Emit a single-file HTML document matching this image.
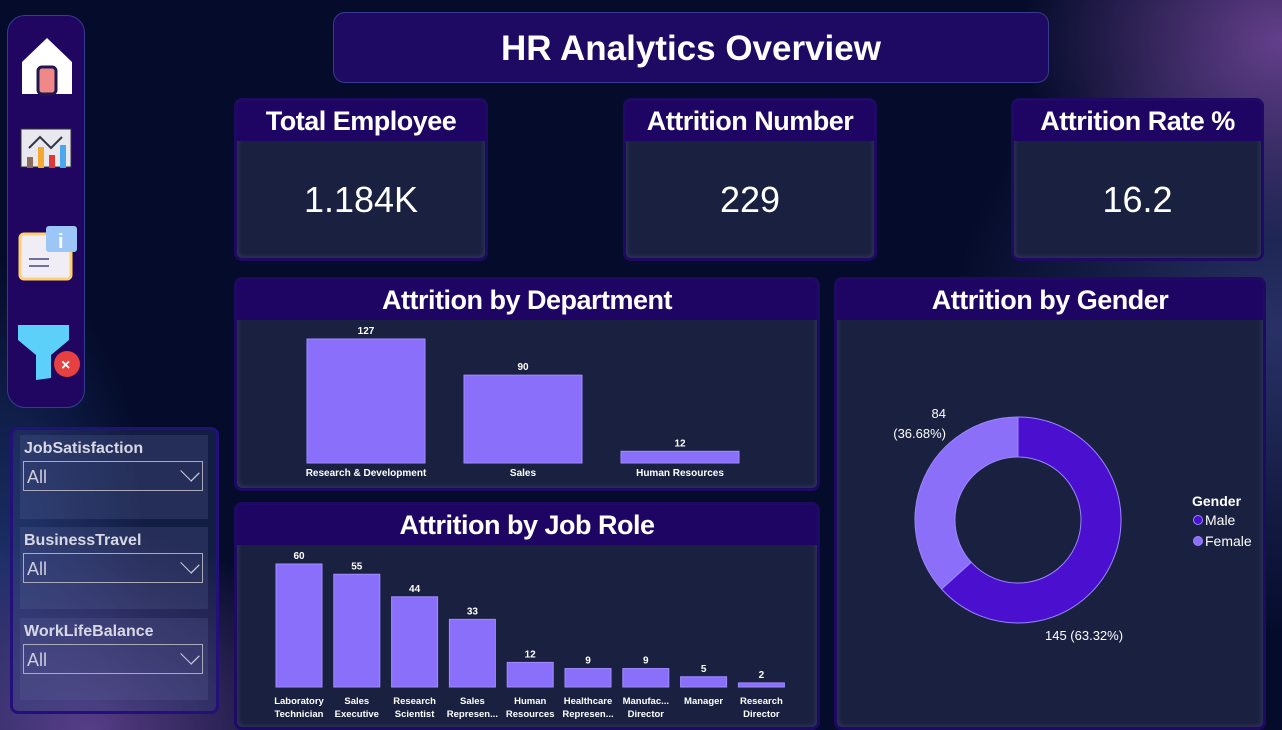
<!DOCTYPE html>
<html><head><meta charset="utf-8">
<style>
*{box-sizing:border-box;margin:0;padding:0}
body{width:1282px;height:730px;overflow:hidden;font-family:"Liberation Sans",sans-serif;color:#fff;
background:radial-gradient(ellipse 260px 200px at 1282px 40px,rgba(150,90,190,.65),transparent),
radial-gradient(ellipse 330px 300px at 1282px 330px,rgba(70,80,150,.55),transparent),
radial-gradient(ellipse 260px 200px at 90px 730px,rgba(120,80,170,.7),transparent),
radial-gradient(ellipse 150px 300px at 0px 560px,rgba(40,70,140,.6),transparent),#050c2b;position:relative}
.abs{position:absolute}
.card{position:absolute;background:#1a2040;border:3px solid #1e0a62;border-radius:8px;overflow:hidden;box-shadow:inset 0 0 6px rgba(120,130,180,.35)}
.hdr{background:#1e0563;height:40px;text-align:center;font-weight:bold;font-size:27px;line-height:40px;letter-spacing:-.5px}
.kval{text-align:center;font-size:36px;margin-top:38px}
.slicer{position:absolute;left:20px;width:188px;height:78px;background:rgba(90,100,150,.25)}
.slicer .t{font-weight:bold;font-size:16px;color:#d8d8e4;margin:5px 0 0 4px}
.slicer .box{margin:3px 0 0 3px;width:180px;height:30px;border:1px solid #aab;font-size:18px;color:#ccd;padding:5px 0 0 3px;position:relative}
.slicer .box:after{content:"";position:absolute;right:6px;top:4px;width:11px;height:11px;border-right:1.5px solid #ccd;border-bottom:1.5px solid #ccd;transform:rotate(45deg) scaleX(1.3)}
svg text{font-family:"Liberation Sans",sans-serif}
</style></head><body>
<div class="abs" style="left:7px;top:15px;width:78px;height:393px;background:#210661;border:1px solid #2f3f90;border-radius:18px"></div>
<svg class="abs" style="left:0;top:0" width="100" height="400">
<g><polygon points="22,62 47,38 72,62 72,94 22,94" fill="#fff"/><rect x="38" y="67" width="18" height="27" rx="4" fill="#f08888" stroke="#1f1850" stroke-width="3"/></g>
<g><rect x="21" y="129" width="50" height="38" fill="#e8e8ee" stroke="#333" /><rect x="27" y="157" width="6" height="11" fill="#8a6b5c"/><rect x="38" y="147" width="6" height="21" fill="#f4a830"/><rect x="49" y="155" width="6" height="13" fill="#e03838"/><rect x="60" y="145" width="6" height="23" fill="#4aa8f0"/><polyline points="29,148 40,137 51,148 62,137" stroke="#334" stroke-width="2" fill="none"/></g>
<g><rect x="20" y="234" width="51" height="45" rx="4" fill="#f0eef4" stroke="#ffd070" stroke-width="3"/><rect x="46" y="226" width="31" height="26" rx="3" fill="#9cc6f6"/><text x="58" y="248" font-size="20" font-weight="bold" fill="#fff">i</text><rect x="29" y="258" width="20" height="2" fill="#7070a0"/><rect x="29" y="265" width="20" height="2" fill="#7070a0"/></g>
<g><polygon points="18,325 69,325 69,340 51,355 51,378 36,380 36,355 18,340" fill="#5cd0f8"/><circle cx="67" cy="364" r="13" fill="#e84040"/><text x="61" y="370" font-size="16" fill="#fff" font-weight="bold">×</text></g>
</svg>
<div class="abs" style="left:333px;top:12px;width:716px;height:71px;background:#1e0a62;border:1px solid #3a3a90;border-radius:12px;text-align:center;font-weight:bold;font-size:35px;line-height:71px">HR Analytics Overview</div>

<div class="card" style="left:234px;top:98px;width:254px;height:163px"><div class="hdr">Total Employee</div><div class="kval">1.184K</div></div>
<div class="card" style="left:623px;top:98px;width:254px;height:163px"><div class="hdr">Attrition Number</div><div class="kval">229</div></div>
<div class="card" style="left:1011px;top:98px;width:253px;height:163px"><div class="hdr">Attrition Rate %</div><div class="kval">16.2</div></div>

<div class="card" style="left:234px;top:277px;width:586px;height:214px"><div class="hdr">Attrition by Department</div></div>
<div class="card" style="left:234px;top:502px;width:586px;height:228px"><div class="hdr">Attrition by Job Role</div></div>
<div class="card" style="left:834px;top:277px;width:432px;height:453px"><div class="hdr">Attrition by Gender</div></div>

<div class="abs" style="left:10px;top:427px;width:209px;height:287px;border:3px solid #24107a;border-radius:8px;background:rgba(60,80,140,.25)"></div>
<div class="slicer" style="top:435px;height:84px"><div class="t">JobSatisfaction</div><div class="box">All</div></div>
<div class="slicer" style="top:527px;height:82px"><div class="t">BusinessTravel</div><div class="box">All</div></div>
<div class="slicer" style="top:618px;height:82px"><div class="t">WorkLifeBalance</div><div class="box">All</div></div>

<svg class="abs" id="charts" style="left:0;top:0" width="1282" height="730"></svg>
<script>
const deptCats=["Research & Development","Sales","Human Resources"];
const deptVals=[127,90,12];
const roleCats=[["Laboratory","Technician"],["Sales","Executive"],["Research","Scientist"],["Sales","Represen..."],["Human","Resources"],["Healthcare","Represen..."],["Manufac...","Director"],["Manager",""],["Research","Director"]];
const roleVals=[60,55,44,33,12,9,9,5,2];
const genderCats=["Male","Female"];
const genderVals=[145,84];
const genderLabels=["145 (63.32%)","84 (36.68%)"];

const NS="http://www.w3.org/2000/svg";
const svg=document.getElementById('charts');
function mk(tag,at,txt){const e=document.createElementNS(NS,tag);for(const k in at)e.setAttribute(k,at[k]);if(txt!==undefined)e.textContent=txt;svg.appendChild(e);return e;}
// department
{const base=463,h=124,max=Math.max(...deptVals);const y=v=>base-v/max*h;const x=i=>366+i*157;
deptVals.forEach((v,i)=>{
const r=mk('rect',{x:x(i)-59,y:y(v),width:118,height:base-y(v),fill:'#8a6ffb',stroke:'#a08cff','stroke-width':1});


const t=mk('text',{x:x(i),y:y(v)-5,'text-anchor':'middle','font-size':10,'font-weight':'bold',fill:'#fff'},v);


const c=mk('text',{x:x(i),y:476,'text-anchor':'middle','font-size':10,'font-weight':'bold',fill:'#fff'},deptCats[i]);

});}
// job role
{const base=687,h=123,max=Math.max(...roleVals);const y=v=>base-v/max*h;const x=i=>299+i*57.8;
roleVals.forEach((v,i)=>{
const r=mk('rect',{x:x(i)-23,y:y(v),width:46,height:base-y(v),fill:'#8a6ffb',stroke:'#a08cff','stroke-width':1});


const t=mk('text',{x:x(i),y:y(v)-5,'text-anchor':'middle','font-size':10,'font-weight':'bold',fill:'#fff'},v);


roleCats[i].forEach((s,j)=>{const c=mk('text',{x:x(i),y:704+j*13,'text-anchor':'middle','font-size':9.5,'font-weight':'bold',fill:'#fff'},s);

});});}
// donut
{const cx=1018,cy=520,R=103,r=63,cols=['#4a0fcf','#8c6ff9'];const tot=genderVals.reduce((a,b)=>a+b,0);let a0=0;
const pt=(a,rad)=>[cx+rad*Math.sin(a),cy-rad*Math.cos(a)];
genderVals.forEach((v,i)=>{const a1=a0+v/tot*2*Math.PI;const lg=(a1-a0)>Math.PI?1:0;
const [x1,y1]=pt(a0,R),[x2,y2]=pt(a1,R),[x3,y3]=pt(a1,r),[x4,y4]=pt(a0,r);
const p=mk('path',{d:`M${x1},${y1}A${R},${R} 0 ${lg} 1 ${x2},${y2}L${x3},${y3}A${r},${r} 0 ${lg} 0 ${x4},${y4}Z`,fill:cols[i],stroke:'#9a86ff','stroke-width':1});


a0=a1;});
const l1=mk('text',{x:1045,y:640,'font-size':13,fill:'#fff'},genderLabels[0]);


const l2=mk('text',{x:946,y:418,'font-size':13,fill:'#fff','text-anchor':'end'},String(genderVals[1]));


const l3=mk('text',{x:946,y:438,'font-size':13,fill:'#fff','text-anchor':'end'},genderLabels[1].replace(/^\d+ /,''));


const lt=mk('text',{x:1192,y:506,'font-size':14,'font-weight':'bold',fill:'#fff'},'Gender');


genderCats.forEach((g,i)=>{const c=mk('circle',{cx:1198,cy:520+i*21,r:4.5,fill:cols[i],stroke:'#9a86ff'});


const t=mk('text',{x:1205,y:525+i*21,'font-size':14,fill:'#fff'},g);

});}
</script>
</body></html>
